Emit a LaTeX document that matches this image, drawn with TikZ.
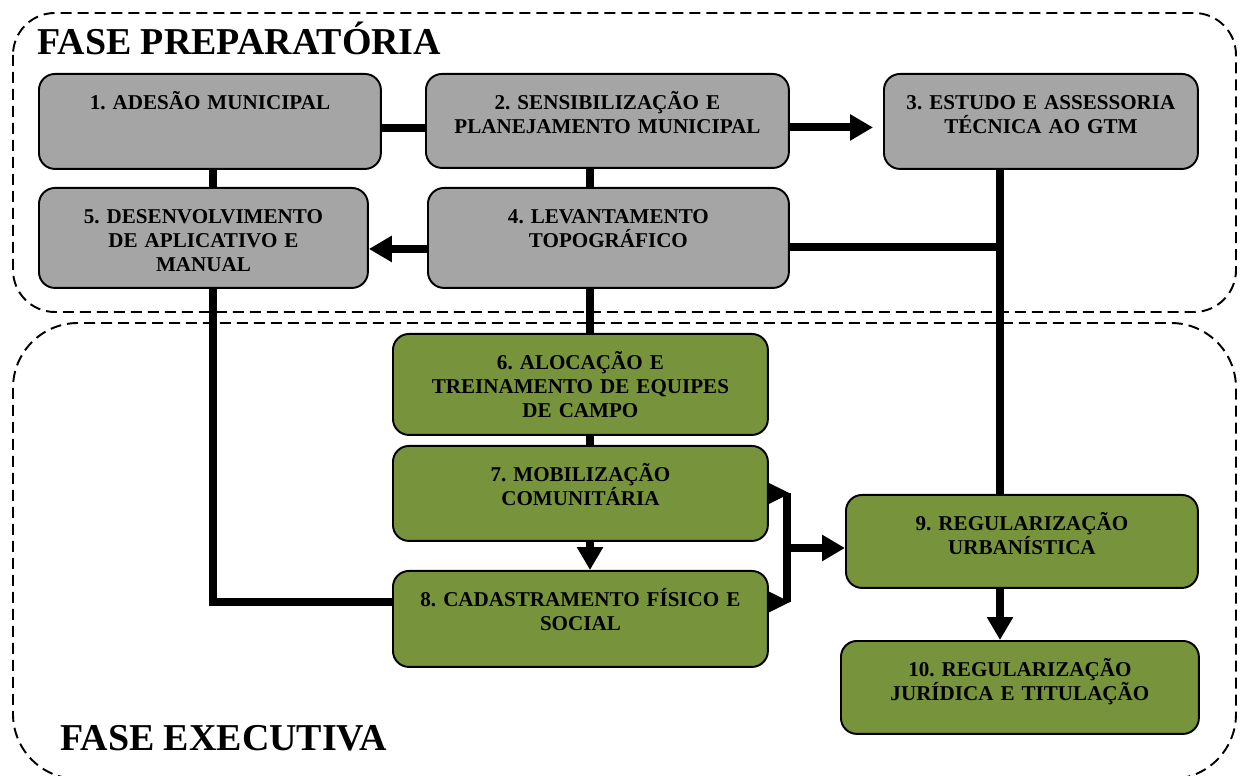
\documentclass[tikz,border=0pt]{standalone}
\usepackage{fontspec}
\setmainfont{Liberation Serif}
\usepackage{xcolor}
\definecolor{boxgray}{HTML}{A5A5A5}
\definecolor{oliva}{HTML}{77933C}
\usepackage{tikz}
\usetikzlibrary{arrows.meta}
\frenchspacing

\begin{document}
\begin{tikzpicture}[x=0.02cm, y=-0.02cm,
    etapa/.style={
        rectangle, rounded corners=0.32cm, draw=black, line width=1.1pt,
        align=center, inner xsep=0.1cm, inner ysep=0pt, anchor=north west,
        font=\fontsize{12}{13.4}\selectfont\bfseries, text height=0.72cm},
    prep/.style={etapa, fill=boxgray},
    exec/.style={etapa, fill=oliva},
    link/.style={line width=4.5pt},
    seta/.style={link, -{Triangle[length=0.46cm, width=0.5cm]}},
    ponta/.style={fill=black},
    fase/.style={rounded corners=#1, draw=black, line width=1.1pt,
        dash pattern=on 0.22cm off 0.12cm},
    titulo/.style={font=\fontsize{21.6}{24}\selectfont\bfseries,
        anchor=base west, inner sep=0pt}]
    \useasboundingbox (0,0) rectangle (1241,776);

    % fases
    \draw[fase=0.84cm] (13,13) rectangle (1236,312);
    \draw[fase=1.3cm] (13,323) rectangle (1236,779);
    \node (FP) [titulo] at (37,55) {FASE PREPARATÓRIA};
    \node (FE) [titulo] at (60,750) {FASE EXECUTIVA};

    % etapas
    \node (E1) [prep, text width=6.64cm, text depth=1.18cm] at (38,73) {1. ADESÃO MUNICIPAL};
    \node (E2) [prep, text width=7.06cm, text depth=1.16cm] at (425,73) {2. SENSIBILIZAÇÃO E\\PLANEJAMENTO MUNICIPAL};
    \node (E3) [prep, text width=6.08cm, text depth=1.18cm] at (883,73) {3. ESTUDO E ASSESSORIA\\TÉCNICA AO GTM};
    \node (E5) [prep, text width=6.38cm, text depth=1.28cm] at (38,187) {5. DESENVOLVIMENTO\\DE APLICATIVO E\\MANUAL};
    \node (E4) [prep, text width=7.02cm, text depth=1.28cm] at (427,187) {4. LEVANTAMENTO\\TOPOGRÁFICO};
    \node (E6) [exec, text width=7.3cm, text depth=1.30cm] at (392,333) {6. ALOCAÇÃO E\\TREINAMENTO DE EQUIPES\\DE CAMPO};
    \node (E7) [exec, text width=7.3cm, text depth=1.18cm] at (392,445) {7. MOBILIZAÇÃO\\COMUNITÁRIA};
    \node (E8) [exec, text width=7.3cm, text depth=1.20cm] at (392,570) {8. CADASTRAMENTO FÍSICO E\\SOCIAL};
    \node (E9) [exec, text width=6.84cm, text depth=1.14cm] at (845,494) {9. REGULARIZAÇÃO\\URBANÍSTICA};
    \node (E10) [exec, text width=6.96cm, text depth=1.14cm] at (840,640) {10. REGULARIZAÇÃO\\JURÍDICA E TITULAÇÃO};

    % pontos de passagem
    \coordinate (esq) at (213,602);
    \coordinate (cen) at (590,0);
    \coordinate (dir) at (1000,247);
    \coordinate (jun) at (790,548);

    % ligacoes
    \draw[link] ([yshift=-0.13cm]E1.east) -- ([yshift=-0.13cm]E1.east -| E2.west);
    \draw[seta, shorten >=0.2cm] ([yshift=-0.13cm]E2.east) -- ([yshift=-0.13cm]E2.east -| E3.west);
    \draw[link] (E1.south -| esq) -- (E5.north -| esq);
    \draw[link] (E5.south -| esq) -- (esq) -- (esq -| E8.west);
    \draw[link] (E2.south -| cen) -- (E4.north -| cen);
    \draw[seta] ([yshift=-0.22cm]E4.west) -- ([yshift=-0.22cm]E4.west -| E5.east);
    \draw[link] (E3.south -| dir) -- (E9.north -| dir);
    \draw[link] (E4.east |- dir) -- (dir);
    \draw[link] (E4.south -| cen) -- (E6.north -| cen);
    \draw[link] (E6.south -| cen) -- (E7.north -| cen);
    \draw[seta] (E7.south -| cen) -- (E8.north -| cen);
    \draw[seta] (E9.south -| dir) -- (E10.north -| dir);
    \fill[ponta] ([yshift=0.21cm]E7.east) -- (E7.east -| jun) -- ([yshift=-0.21cm]E7.east) -- cycle;
    \fill[ponta] ([yshift=0.21cm]esq -| E8.east) -- (esq -| jun) -- ([yshift=-0.21cm]esq -| E8.east) -- cycle;
    \draw[link] ([xshift=-1.5pt]E7.east -| jun) -- ([xshift=-1.5pt]esq -| jun);
    \draw[seta] (jun) -- (jun -| E9.west);
\end{tikzpicture}
\end{document}
